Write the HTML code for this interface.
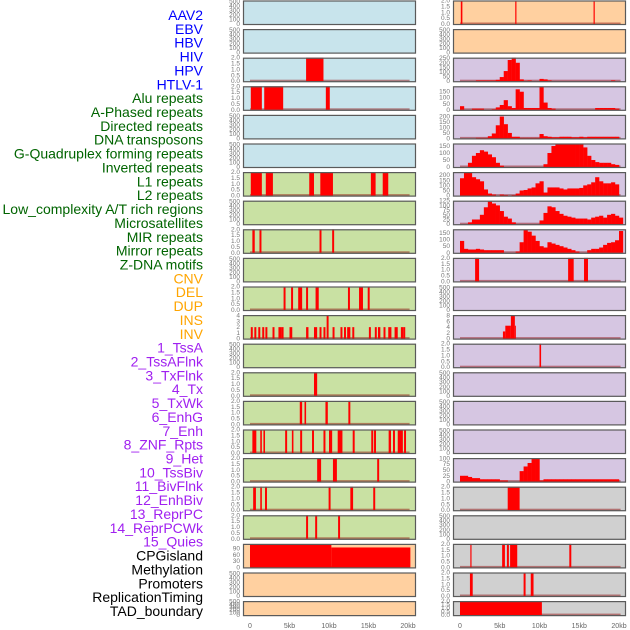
<!DOCTYPE html>
<html><head><meta charset="utf-8">
<style>
body{margin:0;background:#fff;width:630px;height:630px;overflow:hidden;font-family:"Liberation Sans",sans-serif}
svg{position:absolute;left:0;top:0}
</style></head>
<body>
<svg id="chart" width="630" height="630"></svg>
<script>
const trackLabels = ['AAV2','EBV','HBV','HIV','HPV','HTLV-1','Alu repeats','A-Phased repeats','Directed repeats','DNA transposons','G-Quadruplex forming repeats','Inverted repeats','L1 repeats','L2 repeats','Low_complexity A/T rich regions','Microsatellites','MIR repeats','Mirror repeats','Z-DNA motifs','CNV','DEL','DUP','INS','INV','1_TssA','2_TssAFlnk','3_TxFlnk','4_Tx','5_TxWk','6_EnhG','7_Enh','8_ZNF_Rpts','9_Het','10_TssBiv','11_BivFlnk','12_EnhBiv','13_ReprPC','14_ReprPCWk','15_Quies','CPGisland','Methylation','Promoters','ReplicationTiming','TAD_boundary'];
const labelGroups = [6,13,5,15,5];
const labelColors = ['#0000ff','#006400','#ffa500','#a020f0','#000000'];
const xTickVals = [0,5,10,15,20];
const xTickLabels = ['0','5kb','10kb','15kb','20kb'];

// left column bar data [startKb, endKb, value]
const L_hiv = [[7.1,9.3,2]];
const L_alu = [[0.1,1.5,2],[1.8,4.2,2],[9.6,10.1,2]];
const L_l1 = [[0.1,1.5,2],[2.0,2.9,2],[7.5,8.1,2],[8.9,10.5,2],[15.3,15.9,2],[16.8,17.5,2]];
const L_mir = [[0.3,0.6,2],[1.2,1.45,2],[8.8,9.05,2],[10.4,10.65,2]];
const L_del = [[4.25,4.5,2],[5.2,5.45,2],[6.1,6.6,2],[7.1,7.35,2],[8.3,8.7,2],[12.4,12.65,2],[13.8,14.3,2],[14.9,15.15,2]];
const L_inv = [[0.1,0.35,2],[0.55,0.8,2],[1.05,1.3,2],[1.55,1.8,2],[1.95,2.2,2],[2.85,3.1,2],[3.6,4.0,2],[4.0,4.25,2],[5.0,5.35,2],[7.1,7.4,2],[8.1,8.5,2],[8.8,9.05,2],[9.3,9.55,2],[9.7,9.95,4],[10.45,10.7,2],[11.45,11.7,2],[11.9,12.15,2],[12.3,12.7,2],[12.95,13.2,2],[15.05,15.3,2],[15.8,16.05,2],[16.2,16.5,2],[16.9,17.15,2],[17.5,17.9,2],[18.3,18.7,2],[19.1,19.4,2],[19.4,19.65,2]];
const L_r14 = [[8.1,8.5,2]];
const L_r15 = [[6.3,6.6,2],[6.9,7.1,2],[9.55,9.85,2],[12.45,12.7,2]];
const L_r16 = [[0.3,0.8,2],[1.3,1.5,2],[1.7,1.9,2],[4.45,4.7,2],[5.3,5.5,2],[6.35,6.6,2],[7.85,8.1,2],[9.3,9.55,2],[10.0,10.4,2],[11.1,11.7,2],[13.0,13.25,2],[15.35,15.6,2],[15.7,15.95,2],[17.55,17.85,2],[18.1,18.35,2],[18.7,19.35,2],[19.5,19.75,2]];
const L_r17 = [[8.5,9.0,2],[10.5,11.0,2],[16.1,16.35,2]];
const L_r18 = [[0.4,0.75,2],[1.3,1.5,2],[1.9,2.15,2],[9.95,10.2,2],[12.7,13.05,2],[15.6,15.85,2]];
const L_r19 = [[7.1,7.35,2],[8.25,8.5,2],[11.15,11.4,2]];
const L_cpg = [[0,10.3,108],[10.3,20.3,95]];

// right column
const R_aav = [[0.1,0.3,2],[6.95,7.1,2],[16.8,16.95,2]];
const R_r3 = [0,0,0,0,8,8,8,8,8,15,45,110,230,255,200,20,5,8,0,0,25,20,8,0,0,0,0,0,0,0,0,0,0,0,0,0,0,0,8,0,0];
const R_r4 = [30,0,0,10,10,10,0,0,5,20,40,80,30,15,170,150,15,15,15,15,190,60,15,10,0,0,0,0,0,0,0,0,0,0,15,15,15,15,15,10,0];
const R_r5 = [0,0,0,0,5,5,5,20,45,120,200,130,50,15,15,5,5,5,5,5,40,20,15,10,10,15,15,15,10,10,15,10,15,15,15,15,15,15,15,15,0];
const R_r6 = [0,0,30,80,100,120,110,90,70,30,10,0,0,0,0,0,0,0,0,0,0,20,100,150,165,166,166,166,166,166,166,140,80,50,35,30,30,30,20,15,0];
const R_r7 = [170,225,225,180,160,140,60,20,10,0,10,5,0,5,20,50,55,70,80,120,140,30,80,80,80,70,60,70,70,70,75,100,110,130,180,140,120,120,130,110,0];
const R_r8 = [0,0,10,25,25,50,90,120,110,100,70,40,30,10,0,0,0,0,0,0,20,60,95,90,70,55,45,40,35,30,30,30,25,35,40,45,35,50,55,45,35];
const R_r9 = [90,30,25,25,30,25,20,20,20,20,20,0,0,0,10,80,175,160,130,90,50,40,80,70,60,50,40,30,20,10,0,0,20,30,30,40,60,75,80,95,165];
const R_r10 = [[1.9,2.4,2],[13.6,14.3,2],[15.6,16.1,2]];
const R_r12 = [[5.4,5.7,2.5],[5.7,6.4,4.5],[6.4,6.9,8],[6.9,7.0,4.5]];
const R_r13 = [[10.0,10.2,2]];
const R_r17 = [25,25,20,15,15,10,10,10,10,10,5,5,0,0,0,45,65,80,100,100,5,10,10,10,10,10,10,10,10,10,10,10,10,10,10,10,10,10,10,10,0];
const R_r18 = [[6.0,7.5,2]];
const R_r20 = [[1.3,1.45,2],[5.3,5.65,2],[5.9,6.15,2],[6.3,7.2,2],[13.75,14.0,2]];
const R_r21 = [[1.25,1.6,2],[8.0,8.25,2],[8.9,9.25,2]];
const R_r22 = [[0,10.3,2]];

const T2v=[2,1.5,1,0.5,0], T2l=['2.0','1.5','1.0','0.5','0.0'];
const T5v=[500,400,300,200,100,0], T5l=['500','400','300','200','100','0'];
const C={blue:'#c8e4ec',green:'#c9e1a3',orange:'#ffd0a0',purple:'#d6c6e2',gray:'#d0d0d0'};
function P(bg,ymax,tv,tl,segs,bins){return {bg,ymax,tv,tl,segs,bins};}
const E=(bg)=>P(bg,520,T5v,T5l,null,null);
const left=[E(C.blue),E(C.blue),P(C.blue,2,T2v,T2l,L_hiv),P(C.blue,2,T2v,T2l,L_alu),E(C.blue),E(C.blue),
P(C.green,2,T2v,T2l,L_l1),E(C.green),P(C.green,2,T2v,T2l,L_mir),E(C.green),P(C.green,2,T2v,T2l,L_del),
P(C.green,4.1,[4,3,2,1,0],['4','3','2','1','0'],L_inv),E(C.green),P(C.green,2,T2v,T2l,L_r14),P(C.green,2,T2v,T2l,L_r15),
P(C.green,2,T2v,T2l,L_r16),P(C.green,2,T2v,T2l,L_r17),P(C.green,2,T2v,T2l,L_r18),P(C.green,2,T2v,T2l,L_r19),
P(C.orange,112,[90,60,30,0],['90','60','30','0'],L_cpg),E(C.orange),E(C.orange)];
const right=[P(C.orange,2,T2v,T2l,R_aav),E(C.orange),
P(C.purple,255,[250,200,150,100,50,0],['250','200','150','100','50','0'],null,R_r3),
P(C.purple,195,[150,100,50,0],['150','100','50','0'],null,R_r4),
P(C.purple,215,[200,150,100,50,0],['200','150','100','50','0'],null,R_r5),
P(C.purple,168,[150,100,50,0],['150','100','50','0'],null,R_r6),
P(C.purple,230,[200,150,100,50,0],['200','150','100','50','0'],null,R_r7),
P(C.purple,125,[125,100,75,50,25,0],['125','100','75','50','25','0'],null,R_r8),
P(C.purple,178,[150,100,50,0],['150','100','50','0'],null,R_r9),
P(C.purple,2,T2v,T2l,R_r10),E(C.purple),
P(C.purple,8.2,[8,6,4,2,0],['8','6','4','2','0'],R_r12),
P(C.purple,2,T2v,T2l,R_r13),E(C.purple),E(C.purple),E(C.purple),
P(C.purple,101,[100,75,50,25,0],['100','75','50','25','0'],null,R_r17),
P(C.gray,2,T2v,T2l,R_r18),E(C.gray),P(C.gray,2,T2v,T2l,R_r20),P(C.gray,2,T2v,T2l,R_r21),P(C.gray,2,T2v,T2l,R_r22)];

const NS='http://www.w3.org/2000/svg';
const svg=document.getElementById('chart');
function mk(t,a,parent){const e=document.createElementNS(NS,t);for(const k in a)e.setAttribute(k,a[k]);(parent||svg).appendChild(e);return e;}

// labels
let li=0;
labelGroups.forEach((n,g)=>{for(let k=0;k<n;k++){const t=mk('text',{x:203,y:15+li*13.86+5,'text-anchor':'end','font-size':14,fill:labelColors[g]});t.textContent=trackLabels[li];


li++;}});

function drawCol(panels,x0,x1,zeroPx,pxPerKb,side){
  const xs=kb=>zeroPx+kb*pxPerKb;
  panels.forEach((p,i)=>{
    const top=0.5+i*28.6, h=(i===21)?15:24.5, bot=top+h;
    const g=mk('g',{});
    
    
    mk('rect',{x:x0,y:top,width:x1-x0,height:h,fill:p.bg},g);
    const ys=v=>bot-1-v/p.ymax*(h-1);
    const has=p.segs||p.bins;
    if(has) mk('rect',{x:xs(0),y:bot-2.5,width:xs(20.2)-xs(0),height:2,fill:'rgba(140,0,0,0.45)'},g);
    if(p.segs) p.segs.forEach(s=>{const r=mk('rect',{x:xs(s[0]),y:ys(s[2]),width:Math.max(1,xs(s[1])-xs(s[0])),height:bot-1-ys(s[2]),fill:'#ff0000'},g);
      
      });
    if(p.bins) p.bins.forEach((v,b)=>{if(v<=0)return;const r=mk('rect',{x:xs(b*0.5),y:ys(v),width:xs((b+1)*0.5)-xs(b*0.5)+0.2,height:bot-1-ys(v),fill:'#ff0000'},g);
      
      });
    mk('rect',{x:x0+0.5,y:top+0.5,width:x1-x0-1,height:h-1,fill:'none',stroke:'#5a5a5a','stroke-width':1.2},g);
    p.tv.forEach((v,k)=>{let y=ys(v)+2;if(y<top+2)y=top+2;const t=mk('text',{x:x0-3,y:y,'text-anchor':'end','font-size':6.5,fill:'#777'},g);t.textContent=p.tl[k];});
  });
  xTickVals.forEach((v,k)=>{const t=mk('text',{x:xs(v),y:628,'text-anchor':'middle','font-size':7,fill:'#666'});t.textContent=xTickLabels[k];
    
    });
}
drawCol(left,243,416,250,7.9,'left');
drawCol(right,453,626,460,7.95,'right');
</script>
</body></html>
